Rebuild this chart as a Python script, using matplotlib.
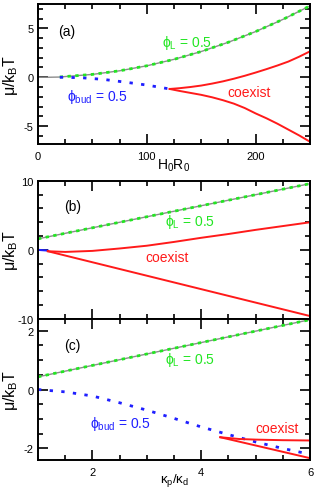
import numpy as np
import matplotlib
matplotlib.use("Agg")
import matplotlib.pyplot as plt
from matplotlib.ticker import MultipleLocator

plt.rcParams['font.family'] = ['Liberation Sans', 'DejaVu Sans']
plt.rcParams['mathtext.fontset'] = 'custom'
plt.rcParams['mathtext.rm'] = 'Liberation Sans'
plt.rcParams['mathtext.it'] = 'Liberation Sans'
plt.rcParams['axes.unicode_minus'] = False

GREEN = '#22e622'
BLUE = '#1f1fff'
RED = '#ff1a1a'
GRAY = '#8c8c8c'

# panel (a): mu vs H0R0
a_gray_x = [0, 10, 20, 25, 50, 75, 100, 125, 150, 175, 200, 225, 250]
a_gray_y = [0, 0, 0.02, 0.07, 0.29, 0.66, 1.17, 1.83, 2.63, 3.58, 4.67, 5.91, 7.3]
a_green_x = a_gray_x[2:]
a_green_y = a_gray_y[2:]
a_blue_x = [20, 40, 60, 80, 100, 121]
a_blue_y = [0, -0.05, -0.22, -0.5, -0.8, -1.2]
a_red_up_x = [121, 130, 140, 150, 160, 170, 180, 190, 200, 210, 220, 230, 240, 250]
a_red_up_y = [-1.2, -1.12, -1.0, -0.85, -0.65, -0.42, -0.15, 0.15, 0.48, 0.83, 1.2, 1.6, 2.1, 2.65]
a_red_lo_x = [121, 130, 140, 150, 160, 170, 180, 190, 200, 210, 220, 230, 240, 250]
a_red_lo_y = [-1.2, -1.4, -1.6, -1.8, -2.05, -2.35, -2.7, -3.15, -3.7, -4.2, -4.75, -5.35, -5.95, -6.6]

# panel (b): mu vs kappa_p/kappa_d
b_gray_x = [1, 6]
b_gray_y = [1.6, 9.6]
b_blue_x = [1, 1.18]
b_blue_y = [0, -0.1]
b_red_up_x = [1.18, 1.5, 2, 2.5, 3, 3.5, 4, 4.5, 5, 5.5, 6]
b_red_up_y = [-0.2, -0.3, -0.15, 0.2, 0.6, 1.15, 1.75, 2.3, 2.9, 3.45, 4.0]
b_red_lo_x = [1.18, 6]
b_red_lo_y = [-0.2, -9.6]

# panel (c)
c_gray_x = [1, 6]
c_gray_y = [0.43, 2.37]
c_blue_x = [1, 1.5, 2, 2.5, 3, 3.5, 4, 4.5, 5, 5.5, 6]
c_blue_y = [0, -0.08, -0.22, -0.45, -0.7, -0.98, -1.27, -1.53, -1.78, -2.0, -2.2]
c_red_up_x = [4.35, 4.7, 5, 5.5, 6]
c_red_up_y = [-1.62, -1.68, -1.7, -1.72, -1.73]
c_red_lo_x = [4.35, 6]
c_red_lo_y = [-1.62, -2.33]

fig = plt.figure(figsize=(3.25, 4.89), dpi=100)
L, W = 0.117, 0.837
axa = fig.add_axes([L, 0.703, W, 0.287])
axb = fig.add_axes([L, 0.346, W, 0.282])
axc = fig.add_axes([L, 0.058, W, 0.288])


def style(ax, xmaj, xmin, ymaj, ymin):
    ax.xaxis.set_major_locator(MultipleLocator(xmaj))
    ax.xaxis.set_minor_locator(MultipleLocator(xmin))
    ax.yaxis.set_major_locator(MultipleLocator(ymaj))
    ax.yaxis.set_minor_locator(MultipleLocator(ymin))
    ax.tick_params(which='both', direction='in', top=True, right=True,
                   width=1.2, labelsize=8, pad=3)
    ax.tick_params(axis='x', pad=5)
    ax.tick_params(which='major', length=7)
    ax.tick_params(which='minor', length=3.5)
    for s in ax.spines.values():
        s.set_linewidth(1.4)
    ax.set_ylabel(r'$\mu/k_{\rm B}T$', fontsize=11.5)
    ax.yaxis.set_label_coords(-0.068, 0.5)


def curves(ax, gx, gy, greenx, greeny):
    ax.plot(gx, gy, color=GRAY, lw=1.0)
    ax.plot(greenx, greeny, color=GREEN, lw=2.0, dashes=(1.2, 1.6))


# (a)
curves(axa, a_gray_x, a_gray_y, a_green_x, a_green_y)
axa.plot(a_blue_x, a_blue_y, color=BLUE, lw=2.0, dashes=(1.2, 3.0))
axa.plot(a_red_up_x, a_red_up_y, color=RED, lw=1.4)
axa.plot(a_red_lo_x, a_red_lo_y, color=RED, lw=1.4)
axa.set_xlim(0, 250)
axa.set_ylim(-6.85, 7.5)
style(axa, 100, 25, 5, 1)
axa.set_xlabel(r'$\rm H_0R_0$', fontsize=10, labelpad=-3)
axa.text(26.6, 4.76, '(a)', fontsize=10, ha='center', va='center')
axa.text(137, 3.6, r'$\phi_{\rm L}$ = 0.5', color=GREEN, fontsize=10, ha='center', va='center')
axa.text(55, -1.9, r'$\phi_{\rm bud}$ = 0.5', color=BLUE, fontsize=10, ha='center', va='center')
axa.text(194, -1.5, 'coexist', color=RED, fontsize=10, ha='center', va='center')

# (b)
curves(axb, b_gray_x, b_gray_y, b_gray_x, b_gray_y)
axb.plot(b_blue_x, b_blue_y, color=BLUE, lw=1.5)
axb.plot(b_red_up_x, b_red_up_y, color=RED, lw=1.4)
axb.plot(b_red_lo_x, b_red_lo_y, color=RED, lw=1.4)
axb.set_xlim(1, 6)
axb.set_ylim(-10, 10)
style(axb, 2, 0.5, 10, 2)
axb.tick_params(labelbottom=False)
axb.text(1.63, 6.4, '(b)', fontsize=10, ha='center', va='center')
axb.text(3.79, 4.2, r'$\phi_{\rm L}$ = 0.5', color=GREEN, fontsize=10, ha='center', va='center')
axb.text(3.38, -1.0, 'coexist', color=RED, fontsize=10, ha='center', va='center')

# (c)
curves(axc, c_gray_x, c_gray_y, c_gray_x, c_gray_y)
axc.plot(c_blue_x, c_blue_y, color=BLUE, lw=2.0, dashes=(1.2, 3.0))
axc.plot(c_red_up_x, c_red_up_y, color=RED, lw=1.4)
axc.plot(c_red_lo_x, c_red_lo_y, color=RED, lw=1.4)
axc.set_xlim(1, 6)
axc.set_ylim(-2.38, 2.4)
style(axc, 2, 0.5, 2, 0.5)
axc.set_xlabel(r'$\kappa_{\rm p}/\kappa_{\rm d}$', fontsize=9.5, labelpad=-4)
axc.text(1.63, 1.51, '(c)', fontsize=10, ha='center', va='center')
axc.text(3.79, 1.02, r'$\phi_{\rm L}$ = 0.5', color=GREEN, fontsize=10, ha='center', va='center')
axc.text(2.51, -1.13, r'$\phi_{\rm bud}$ = 0.5', color=BLUE, fontsize=10, ha='center', va='center')
axc.text(5.39, -1.3, 'coexist', color=RED, fontsize=10, ha='center', va='center')

fig.savefig('out.png', dpi=100)
